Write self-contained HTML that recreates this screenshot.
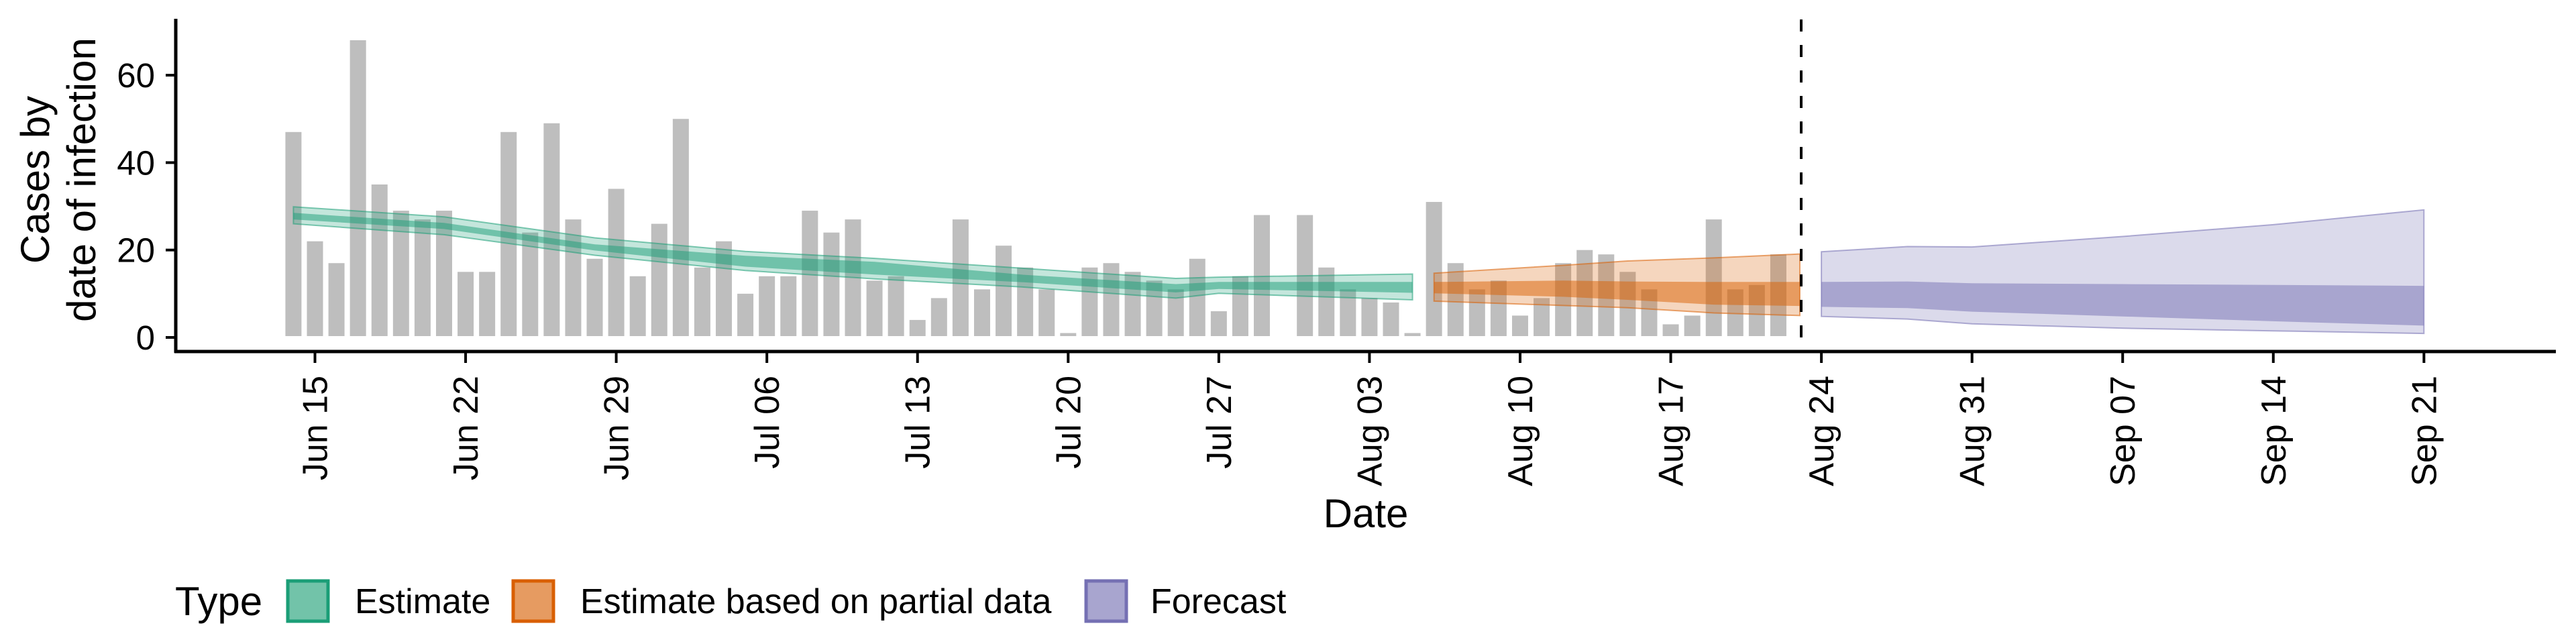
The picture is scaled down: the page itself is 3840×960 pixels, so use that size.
<!DOCTYPE html>
<html><head><meta charset="utf-8"><style>
html,body{margin:0;padding:0;background:#fff;}
svg{display:block;font-family:"Liberation Sans",Arial,sans-serif;}
</style></head><body>
<svg id="chart" width="3840" height="960" viewBox="0 0 3840 960" xmlns="http://www.w3.org/2000/svg">
<g id="bars"></g>
<g id="ribbons"></g>
<line x1="2685" y1="29" x2="2685" y2="524" stroke="#000" stroke-width="4" stroke-dasharray="18,20"/>
<line x1="262" y1="28" x2="262" y2="526" stroke="#000" stroke-width="5"/>
<line x1="260" y1="524" x2="3810" y2="524" stroke="#000" stroke-width="5"/>
<g id="yticks"></g>
<g id="xticks"></g>
<text transform="translate(73,268) rotate(-90)" text-anchor="middle" font-size="60">Cases by</text>
<text transform="translate(142,268) rotate(-90)" text-anchor="middle" font-size="60">date of infection</text>
<text x="2036" y="786" text-anchor="middle" font-size="60">Date</text>
<g>
<text x="261" y="917" font-size="60">Type</text>
<rect x="429" y="866" width="60" height="60" fill="#72c3a9" stroke="#1b9e77" stroke-width="5"/>
<text x="529" y="914" font-size="52">Estimate</text>
<rect x="765" y="866" width="60" height="60" fill="#e69b61" stroke="#d95f02" stroke-width="5"/>
<text x="865" y="914" font-size="52">Estimate based on partial data</text>
<rect x="1619" y="866" width="60" height="60" fill="#a8a5cf" stroke="#7570b3" stroke-width="5"/>
<text x="1715" y="914" font-size="52">Forecast</text>
</g>
</svg>
<script>
const barStart = "2020-06-14";
const barValues = [47,22,17,68,35,29,27,29,15,15,47,24,49,27,18,34,14,26,50,16,22,10,14,14,29,24,27,13,
14,4,9,27,11,21,16,11,1,16,17,15,13,11,18,6,14,28,0,28,16,11,9,8,1,31,17,11,13,5,9,17,20,19,15,11,3,5,27,11,12,19];
const yTicks = [0,20,40,60];
const xTickLabels = ["Jun 15","Jun 22","Jun 29","Jul 06","Jul 13","Jul 20","Jul 27","Aug 03","Aug 10","Aug 17","Aug 24","Aug 31","Sep 07","Sep 14","Sep 21"];
const xTickDates = ["2020-06-15","2020-06-22","2020-06-29","2020-07-06","2020-07-13","2020-07-20","2020-07-27","2020-08-03","2020-08-10","2020-08-17","2020-08-24","2020-08-31","2020-09-07","2020-09-14","2020-09-21"];
const estDates = ["2020-06-14","2020-06-21","2020-06-28","2020-07-05","2020-07-11","2020-07-18","2020-07-25","2020-07-27","2020-08-05"];
const estLo90 = [26.0,23.5,18.8,15.3,13.4,11.5,9.0,10.1,8.6];
const estLo50 = [27.0,24.8,19.9,16.2,14.4,12.6,10.3,11.1,10.2];
const estHi50 = [28.5,26.2,21.3,18.7,17.3,14.3,12.2,12.7,12.7];
const estHi90 = [29.9,27.6,22.8,19.7,18.1,15.8,13.5,13.8,14.5];
const partDates = ["2020-08-06","2020-08-12","2020-08-15","2020-08-19","2020-08-23"];
const partLo90 = [8.3,7.3,6.8,5.6,5.0];
const partLo50 = [10.1,9.3,8.6,7.5,7.2];
const partHi50 = [12.7,13.0,12.8,12.7,12.7];
const partHi90 = [14.7,16.5,17.5,18.2,19.1];
const fcDates = ["2020-08-24","2020-08-28","2020-08-31","2020-09-07","2020-09-14","2020-09-21"];
const fcLo90 = [4.8,4.2,3.1,2.1,1.5,0.9];
const fcLo50 = [7.0,6.7,5.9,4.8,3.7,2.7];
const fcHi50 = [12.7,12.8,12.4,12.2,12.0,11.8];
const fcHi90 = [19.6,20.8,20.7,23.1,25.8,29.2];

const NS = "http://www.w3.org/2000/svg";
const DAY = 86400000, ORIGIN = Date.UTC(2020,5,15);
function dayOf(s){const p=s.split("-");return (Date.UTC(+p[0],+p[1]-1,+p[2])-ORIGIN)/DAY;}
function xs(d){return 469.5 + d*32.08;}
function ys(v){return 503 - v*6.515;}
function mk(tag,attrs,parent){const e=document.createElementNS(NS,tag);for(const k in attrs)e.setAttribute(k,attrs[k]);parent.appendChild(e);return e;}

const gb=document.getElementById("bars");
const d0=dayOf(barStart);
barValues.forEach((v,i)=>{
  if(v<=0) return;
  const cx=xs(d0+i);
  const r=mk("rect",{x:cx-12,y:ys(v),width:24,height:ys(0)-ys(v)-2,fill:"#bebebe"},gb);
  
  
});

const gr=document.getElementById("ribbons");
function band(dates,lo,hi){
  const top=dates.map((d,i)=>xs(dayOf(d)).toFixed(1)+","+ys(hi[i]).toFixed(1));
  const bot=dates.map((d,i)=>xs(dayOf(d)).toFixed(1)+","+ys(lo[i]).toFixed(1)).reverse();
  return top.concat(bot).join(" ");
}
function series(name,col,dates,lo90,lo50,hi50,hi90){
  const o=mk("polygon",{points:band(dates,lo90,hi90),fill:col,"fill-opacity":0.26,stroke:col,"stroke-opacity":0.55,"stroke-width":2},gr);
  
  
  const n=mk("polygon",{points:band(dates,lo50,hi50),fill:col,"fill-opacity":0.5},gr);
  
  
}
series("estimate","#1b9e77",estDates,estLo90,estLo50,estHi50,estHi90);
series("partial-estimate","#d95f02",partDates,partLo90,partLo50,partHi50,partHi90);
series("forecast","#7570b3",fcDates,fcLo90,fcLo50,fcHi50,fcHi90);

const gy=document.getElementById("yticks");
yTicks.forEach(v=>{
  const l=mk("line",{x1:247,x2:262,y1:ys(v),y2:ys(v),stroke:"#000","stroke-width":4},gy);
  
  
  const t=mk("text",{x:231,y:ys(v)+18,"text-anchor":"end","font-size":51},gy);
  t.textContent=v;
  
  
});
const gx=document.getElementById("xticks");
xTickDates.forEach((d,i)=>{
  const x=xs(dayOf(d));
  const l=mk("line",{x1:x,x2:x,y1:524,y2:541,stroke:"#000","stroke-width":4},gx);
  
  
  const t=mk("text",{transform:"translate("+(x+18)+",560) rotate(-90)","text-anchor":"end","font-size":52},gx);
  t.textContent=xTickLabels[i];
  
  
});
</script>
</body></html>
